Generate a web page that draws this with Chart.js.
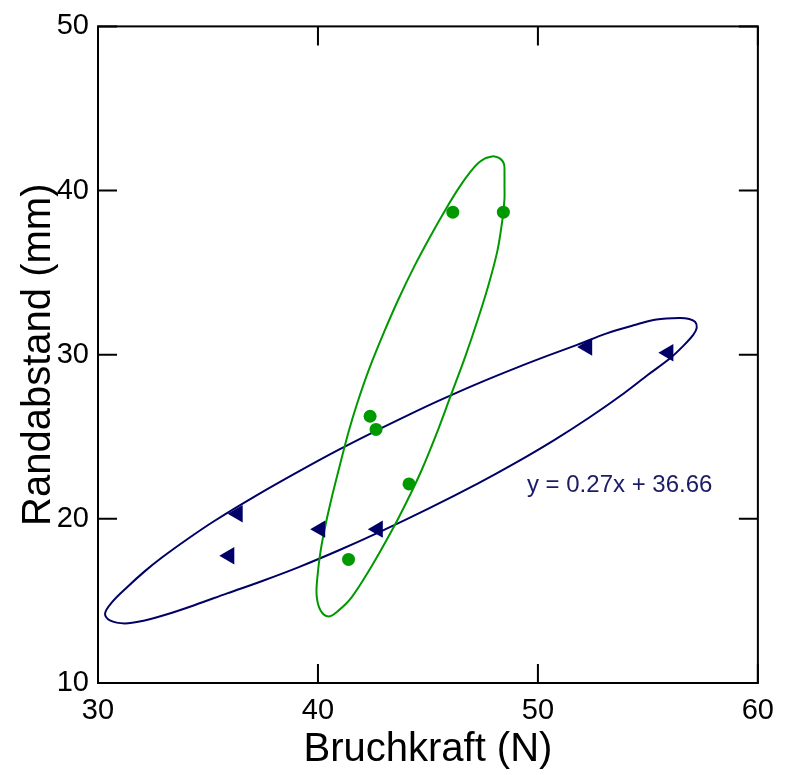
<!DOCTYPE html>
<html>
<head>
<meta charset="utf-8">
<script src="https://cdn.jsdelivr.net/npm/chart.js@4.4.0/dist/chart.umd.min.js"></script>
<style>
  html, body { margin: 0; padding: 0; background: #fff; }
  #wrap { width: 785px; height: 775px; }
</style>
</head>
<body>
<div id="wrap"><canvas id="myChart"></canvas></div>
<script>
'use strict'
const xTicks = [30, 40, 50, 60];
const yTicks = [10, 20, 30, 40, 50];

// green circles
const greenX = [41.39, 42.37, 42.64, 44.14, 46.13, 48.43];
const greenY = [17.53, 26.25, 25.45, 22.13, 38.68, 38.68];

// navy triangles
const navyX = [35.97, 36.35, 40.10, 42.72, 52.24, 55.93];
const navyY = [17.75, 20.31, 19.37, 19.37, 30.47, 30.12];

// ellipse outlines (closed: last point = first point)
const greenEllX = [45.42, 44.68, 44.04, 43.34, 42.42, 41.52, 40.93, 40.48, 40.12, 39.94, 39.98, 40.12, 40.35, 40.67, 40.92, 41.39, 41.80, 42.35, 42.99, 43.66, 44.38, 45.10, 45.87, 46.43, 46.92, 47.28, 47.60, 47.80, 48.03, 48.30, 48.46, 48.48, 48.48, 48.48, 48.39, 48.16, 47.75, 47.26, 46.68, 46.04, 45.42];
const greenEllY = [25.29, 22.87, 21.06, 19.24, 17.07, 15.20, 14.41, 14.05, 14.41, 15.32, 16.53, 18.04, 19.67, 21.54, 22.87, 25.29, 27.10, 29.21, 31.33, 33.38, 35.38, 37.19, 39.00, 40.21, 41.12, 41.66, 41.96, 42.04, 42.08, 41.93, 41.60, 41.12, 40.33, 39.49, 38.28, 36.34, 34.23, 32.11, 29.82, 27.52, 25.29];

const navyEllX = [42.74, 45.00, 47.26, 48.98, 50.74, 52.32, 53.90, 54.99, 55.98, 56.61, 57.06, 57.22, 57.15, 56.88, 56.43, 55.39, 54.49, 53.13, 51.78, 50.42, 49.07, 47.26, 45.45, 44.10, 42.74, 40.93, 39.13, 37.21, 35.29, 34.09, 32.89, 32.12, 31.36, 30.63, 30.32, 30.54, 31.22, 32.12, 33.03, 34.38, 35.87, 37.50, 39.13, 40.93, 42.74];
const navyEllY = [19.16, 20.61, 22.15, 23.41, 24.80, 26.16, 27.64, 28.76, 29.75, 30.54, 31.21, 31.63, 32.00, 32.18, 32.24, 32.15, 31.84, 31.30, 30.60, 29.93, 29.23, 28.24, 27.17, 26.32, 25.43, 24.20, 22.89, 21.43, 19.87, 18.79, 17.63, 16.80, 15.88, 14.91, 14.23, 13.81, 13.63, 13.81, 14.14, 14.74, 15.46, 16.23, 17.06, 18.07, 19.16];

const eqnText = 'y = 0.27x + 36.66';

const navy = '#000066';
const green = '#009900';
const sans = '"Liberation Sans", Arial, sans-serif';

function toPoints(xs, ys) {
    let pts = [];
    for (let i = 0; i < xs.length; i++) {
        pts.push({ x: xs[i], y: ys[i] });
    }
    return pts;
}

// closed outline: add one neighbour on each end so the spline has no corner where it closes
function loopPoints(xs, ys) {
    const n = xs.length;
    let pts = [{ x: xs[n - 2], y: ys[n - 2] }];
    pts = pts.concat(toPoints(xs, ys));
    pts.push({ x: xs[1], y: ys[1] });
    return pts;
}

function outline(label, xs, ys, color) {
    const last = xs.length; // index of the padded end point
    return {
        type: 'line',
        label: label,
        data: loopPoints(xs, ys),
        borderColor: color,
        borderWidth: 2,
        pointRadius: 0,
        tension: 0.35,
        fill: false,
        segment: {
            borderColor: c => (c.p0DataIndex === 0 || c.p1DataIndex === last + 1) ? 'rgba(0,0,0,0)' : color
        }
    };
}

const framePlugin = {
    id: 'frame',
    afterDraw(chart) {
        const { ctx, chartArea: a } = chart;
        const sx = chart.scales.x;
        const sy = chart.scales.y;
        const tickLen = 19;
        ctx.save();
        ctx.strokeStyle = '#000';
        ctx.lineWidth = 2;
        ctx.strokeRect(a.left, a.top, a.right - a.left, a.bottom - a.top);
        ctx.beginPath();
        xTicks.forEach(v => {
            const px = sx.getPixelForValue(v);
            ctx.moveTo(px, a.bottom);
            ctx.lineTo(px, a.bottom - tickLen);
            ctx.moveTo(px, a.top);
            ctx.lineTo(px, a.top + tickLen);
        });
        yTicks.forEach(v => {
            const py = sy.getPixelForValue(v);
            ctx.moveTo(a.left, py);
            ctx.lineTo(a.left + tickLen, py);
            ctx.moveTo(a.right, py);
            ctx.lineTo(a.right - tickLen, py);
        });
        ctx.stroke();

        // regression label
        ctx.fillStyle = '#1c1c66';
        ctx.font = '24px ' + sans;
        ctx.textAlign = 'left';
        ctx.textBaseline = 'middle';
        ctx.fillText(eqnText, sx.getPixelForValue(49.5), sy.getPixelForValue(22.02));
        ctx.restore();
    }
};

const ctx = document.getElementById('myChart');
new Chart(ctx, {
    type: 'scatter',
    data: {
        datasets: [
            {
                label: 'green',
                data: toPoints(greenX, greenY),
                pointStyle: 'circle',
                pointRadius: 6.5,
                pointBorderWidth: 0,
                backgroundColor: green,
                borderColor: green
            },
            {
                label: 'navy',
                data: toPoints(navyX, navyY),
                pointStyle: 'triangle',
                rotation: -90,
                pointRadius: 10,
                pointBorderWidth: 0,
                backgroundColor: navy,
                borderColor: navy
            },
            outline('green ellipse', greenEllX, greenEllY, green),
            outline('navy ellipse', navyEllX, navyEllY, navy)
        ]
    },
    options: {
        responsive: true,
        maintainAspectRatio: false,
        animation: false,
        layout: { padding: { left: 0, right: 23, top: 21, bottom: 0 } },
        plugins: {
            legend: { display: false },
            tooltip: { enabled: false }
        },
        scales: {
            x: {
                type: 'linear',
                min: 30,
                max: 60,
                afterBuildTicks: s => { s.ticks = xTicks.map(v => ({ value: v })); },
                afterFit: s => { s.height = 92; },
                grid: { display: false, drawTicks: false },
                border: { display: false },
                ticks: {
                    autoSkip: false,
                    maxRotation: 0,
                    padding: 11,
                    color: '#000',
                    font: { family: sans, size: 29 }
                },
                title: {
                    display: true,
                    text: 'Bruchkraft (N)',
                    color: '#000',
                    font: { family: sans, size: 40, lineHeight: 1 },
                    padding: { top: 0, bottom: 5 }
                }
            },
            y: {
                type: 'linear',
                min: 10,
                max: 50,
                afterBuildTicks: s => { s.ticks = yTicks.map(v => ({ value: v })); },
                afterFit: s => { s.width = 98; },
                grid: { display: false, drawTicks: false },
                border: { display: false },
                ticks: {
                    autoSkip: false,
                    padding: 9,
                    color: '#000',
                    font: { family: sans, size: 29 }
                },
                title: {
                    display: true,
                    text: 'Randabstand (mm)',
                    color: '#000',
                    font: { family: sans, size: 40, lineHeight: 1 },
                    padding: { top: 19, bottom: 0 }
                }
            }
        }
    },
    plugins: [framePlugin]
});
</script>
</body>
</html>
